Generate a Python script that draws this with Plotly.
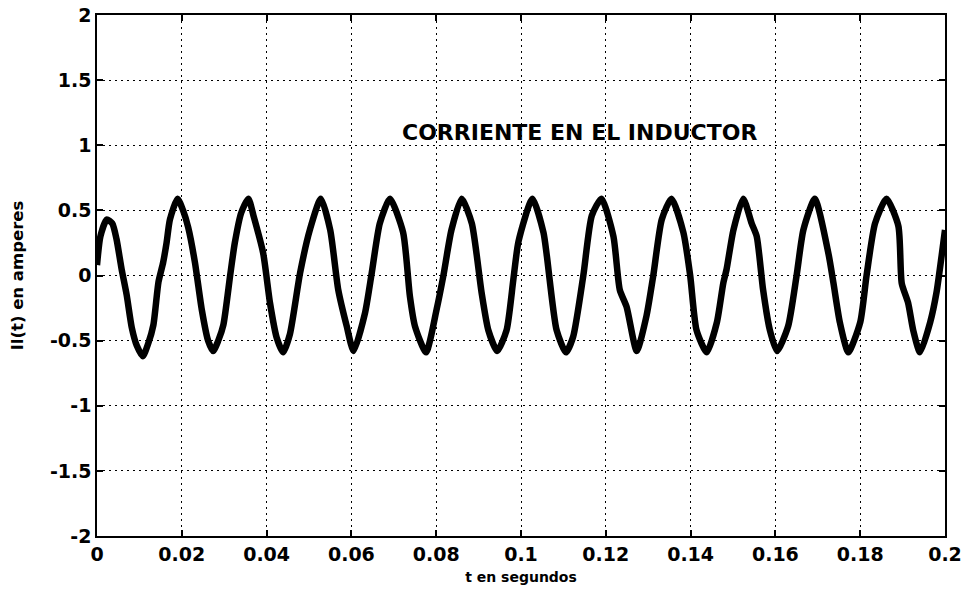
import plotly.graph_objects as go

# Inductor current (time in s, current in A)
t_s = [
    0.0000, 0.0008, 0.0023, 0.0036, 0.0046, 0.0058, 0.0070, 0.0082, 0.0094, 0.0108,
    0.0121, 0.0133, 0.0145, 0.0156, 0.0164, 0.0172, 0.0190,
    0.0203, 0.0215, 0.0231, 0.0247, 0.0262, 0.0274,
    0.0286, 0.0298, 0.0314, 0.0325, 0.0340, 0.0357,
    0.0369, 0.0392, 0.0408, 0.0424, 0.0439,
    0.0455, 0.0479, 0.0502, 0.0528,
    0.0550, 0.0569, 0.0589, 0.0605,
    0.0632, 0.0648, 0.0667, 0.0691,
    0.0722, 0.0738, 0.0750, 0.0776,
    0.0801, 0.0817, 0.0836, 0.0860,
    0.0884, 0.0907, 0.0923, 0.0944,
    0.0966, 0.0982, 0.0994, 0.1027,
    0.1053, 0.1061, 0.1084, 0.1106,
    0.1123, 0.1147, 0.1167, 0.1190,
    0.1218, 0.1233, 0.1249, 0.1273,
    0.1296, 0.1312, 0.1332, 0.1355,
    0.1383, 0.1399, 0.1414, 0.1438,
    0.1462, 0.1477, 0.1485, 0.1501, 0.1524,
    0.1544, 0.1556, 0.1571, 0.1587, 0.1604,
    0.1630, 0.1650, 0.1666, 0.1693,
    0.1725, 0.1737, 0.1752, 0.1772,
    0.1800, 0.1815, 0.1835, 0.1862,
    0.1890, 0.1898, 0.1913, 0.1925, 0.1941,
    0.1965, 0.1980, 0.1992, 0.2000,
]
i_l = [
    0.08, 0.30, 0.43, 0.40, 0.28, 0.05, -0.15, -0.40, -0.54, -0.62,
    -0.52, -0.38, -0.05, 0.10, 0.25, 0.43, 0.59,
    0.50, 0.37, 0.10, -0.26, -0.50, -0.58,
    -0.50, -0.38, 0.00, 0.25, 0.48, 0.59,
    0.46, 0.17, -0.21, -0.48, -0.59,
    -0.45, 0.02, 0.35, 0.59,
    0.35, -0.11, -0.39, -0.58,
    -0.29, 0.02, 0.40, 0.59,
    0.33, -0.16, -0.39, -0.59,
    -0.26, 0.00, 0.35, 0.59,
    0.40, -0.13, -0.42, -0.58,
    -0.42, -0.03, 0.26, 0.59,
    0.33, 0.15, -0.42, -0.59,
    -0.47, 0.00, 0.46, 0.59,
    0.30, -0.11, -0.24, -0.58,
    -0.31, 0.00, 0.43, 0.59,
    0.33, 0.00, -0.42, -0.59,
    -0.36, -0.06, 0.05, 0.35, 0.59,
    0.40, 0.30, -0.11, -0.42, -0.58,
    -0.39, 0.00, 0.35, 0.59,
    0.17, -0.06, -0.36, -0.59,
    -0.36, 0.00, 0.40, 0.59,
    0.38, -0.06, -0.21, -0.42, -0.59,
    -0.36, -0.13, 0.15, 0.35,
]

x_ticks = [0, 0.02, 0.04, 0.06, 0.08, 0.1, 0.12, 0.14, 0.16, 0.18, 0.2]
x_tick_labels = ["0", "0.02", "0.04", "0.06", "0.08", "0.1", "0.12", "0.14", "0.16", "0.18", "0.2"]
y_ticks = [-2, -1.5, -1, -0.5, 0, 0.5, 1, 1.5, 2]
y_tick_labels = ["-2", "-1.5", "-1", "-0.5", "0", "0.5", "1", "1.5", "2"]

title_text = "CORRIENTE EN EL INDUCTOR"
x_title = "t en segundos"
y_title = "Il(t) en amperes"

FONT = "DejaVu Sans, Liberation Sans, Arial, sans-serif"


def bold(s):
    return "<b>" + s + "</b>"


fig = go.Figure()
fig.add_trace(go.Scatter(
    x=t_s, y=i_l, mode="lines",
    line=dict(color="black", width=6.5, shape="spline", smoothing=0.6),
    showlegend=False, hoverinfo="skip",
))

axis_common = dict(
    showline=True, linecolor="black", linewidth=1.5, mirror="ticks",
    ticks="inside", ticklen=6, tickcolor="black", tickwidth=1.5,
    showgrid=True, gridcolor="black", gridwidth=1, griddash="2px,4px",
    zeroline=False, automargin=False,
    tickfont=dict(family=FONT, size=19, color="black"),
)

fig.update_xaxes(
    range=[0, 0.2], tickvals=x_ticks, ticktext=[bold(s) for s in x_tick_labels],
    title=dict(text=bold(x_title), standoff=9,
               font=dict(family=FONT, size=14, color="black")),
    **axis_common,
)
fig.update_yaxes(
    range=[-2, 2], tickvals=y_ticks, ticktext=[bold(s) for s in y_tick_labels],
    title=dict(text=bold(y_title), standoff=22,
               font=dict(family=FONT, size=16.5, color="black")),
    **axis_common,
)

fig.add_annotation(
    x=0.1138, y=1.10, xref="x", yref="y", text=bold(title_text),
    showarrow=False, font=dict(family=FONT, size=22, color="black"),
)

fig.update_layout(
    width=968, height=593,
    margin=dict(l=97, r=23, t=15, b=57),
    paper_bgcolor="white", plot_bgcolor="white",
)

fig.write_html("out.html")
